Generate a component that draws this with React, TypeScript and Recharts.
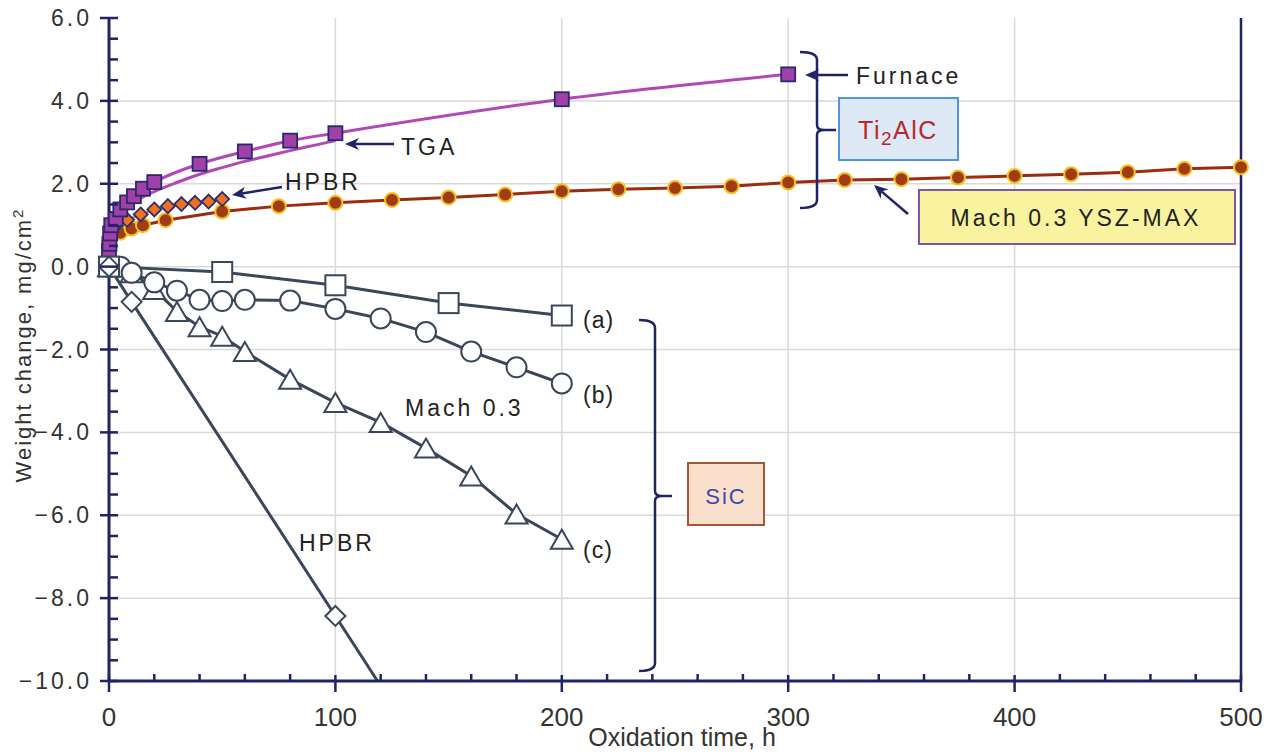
import React from 'react'
import { LineChart, Line, XAxis, YAxis, CartesianGrid, ReferenceLine } from 'recharts'

type Pt = { x: number; y: number }

// Ti2AlC – furnace (squares) and TGA (trace)
const furnaceX = [0, 0.2, 0.5, 1, 3, 5, 8, 11, 15, 20, 40, 60, 80, 100, 200, 300]
const furnaceY = [0.35, 0.55, 0.8, 1.0, 1.15, 1.38, 1.55, 1.7, 1.88, 2.04, 2.48, 2.78, 3.04, 3.22, 4.04, 4.64]
const tgaX = [0, 1, 3, 5, 10, 15, 20, 30, 40, 50, 60, 70, 80, 90, 100]
const tgaY = [0.3, 0.88, 1.12, 1.27, 1.52, 1.68, 1.81, 2.03, 2.23, 2.39, 2.54, 2.67, 2.8, 2.92, 3.04]
// Ti2AlC – HPBR (diamonds)
const hpbrTiX = [0, 2, 8, 14, 20, 26, 32, 38, 44, 50]
const hpbrTiY = [0.55, 0.95, 1.13, 1.26, 1.38, 1.46, 1.51, 1.54, 1.57, 1.63]
// Mach 0.3 YSZ-MAX
const machMaxX = [0, 5, 10, 15, 25, 50, 75, 100, 125, 150, 175, 200, 225, 250, 275, 300, 325, 350, 375, 400, 425, 450, 475, 500]
const machMaxY = [0.6, 0.82, 0.92, 1.0, 1.12, 1.33, 1.46, 1.54, 1.61, 1.67, 1.74, 1.82, 1.87, 1.9, 1.94, 2.03, 2.09, 2.11, 2.15, 2.19, 2.23, 2.28, 2.36, 2.4]
// SiC
const sicAX = [0, 50, 100, 150, 200]
const sicAY = [0, -0.13, -0.45, -0.88, -1.18]
const sicBX = [0, 5, 10, 20, 30, 40, 50, 60, 80, 100, 120, 140, 160, 180, 200]
const sicBY = [0, 0, -0.15, -0.38, -0.58, -0.8, -0.83, -0.8, -0.82, -1.02, -1.25, -1.58, -2.05, -2.43, -2.82]
const sicCX = [0, 10, 20, 30, 40, 50, 60, 80, 100, 120, 140, 160, 180, 200]
const sicCY = [0, -0.15, -0.55, -1.08, -1.45, -1.68, -2.05, -2.72, -3.28, -3.76, -4.38, -5.05, -5.97, -6.58]
// HPBR SiC – last entry is where the line leaves the plot at the bottom
const hpbrSiX = [0, 10, 100, 118.6]
const hpbrSiY = [0, -0.85, -8.43, -10]

const X_LABELS = [0, 100, 200, 300, 400, 500]
const Y_LABELS = [-10, -8, -6, -4, -2, 0, 2, 4, 6]
const X_TICKS = Array.from({ length: 26 }, (_, i) => i * 20)
const Y_TICKS = Array.from({ length: 33 }, (_, i) => -10 + i * 0.5)

const zip = (xs: number[], ys: number[]): Pt[] => xs.map((x, i) => ({ x, y: ys[i] }))

const NAVY = '#1f2466'
const SLATE = '#3a4659'
const FONT = 'Liberation Sans, Arial, sans-serif'
const NARROW = 'Liberation Sans Narrow, Arial Narrow, sans-serif'

const square = (size: number, fill: string, stroke: string, sw: number) => (p: any) => {
  const { cx, cy, index } = p
  if (cx == null || cy == null) return <g key={`s${index}`} />
  return <rect key={`s${index}`} x={cx - size / 2} y={cy - size / 2} width={size} height={size} fill={fill} stroke={stroke} strokeWidth={sw} />
}
const circle = (r: number, fill: string, stroke: string, sw: number) => (p: any) => {
  const { cx, cy, index } = p
  if (cx == null || cy == null) return <g key={`c${index}`} />
  return <circle key={`c${index}`} cx={cx} cy={cy} r={r} fill={fill} stroke={stroke} strokeWidth={sw} />
}
const diamond = (s: number, fill: string, stroke: string, sw: number, skipLast = 0) => (p: any) => {
  const { cx, cy, index, points } = p
  if (cx == null || cy == null) return <g key={`d${index}`} />
  if (skipLast && points && index >= points.length - skipLast) return <g key={`d${index}`} />
  const h = s / 2
  return <polygon key={`d${index}`} points={`${cx},${cy - h} ${cx + h},${cy} ${cx},${cy + h} ${cx - h},${cy}`} fill={fill} stroke={stroke} strokeWidth={sw} />
}
const triangle = (w: number, h: number, fill: string, stroke: string, sw: number) => (p: any) => {
  const { cx, cy, index } = p
  if (cx == null || cy == null) return <g key={`t${index}`} />
  return <polygon key={`t${index}`} points={`${cx},${cy - h / 2} ${cx + w / 2},${cy + h / 2} ${cx - w / 2},${cy + h / 2}`} fill={fill} stroke={stroke} strokeWidth={sw} />
}

function XTick(props: any) {
  const { x, y, payload } = props
  const v = payload.value
  const major = X_LABELS.includes(v)
  return (
    <g>
      <line x1={x} x2={x} y1={major ? y - 6 : y - 7} y2={major ? y + 11 : y} stroke={NAVY} strokeWidth={2.5} />
      {major && (
        <text x={x} y={y + 45} textAnchor="middle" fontFamily={NARROW} fontSize={26} fill="#333">
          {v}
        </text>
      )}
    </g>
  )
}

function YTick(props: any) {
  const { x, y, payload } = props
  const v = payload.value
  const major = Y_LABELS.includes(v)
  const label = v.toFixed(1).replace('-', '\u2212')
  return (
    <g>
      <line x1={major ? x - 9 : x} x2={x + 9} y1={y} y2={y} stroke={NAVY} strokeWidth={2.5} />
      {major && (
        <text x={x - 17} y={y + 8} textAnchor="end" fontFamily={FONT} fontSize={23} letterSpacing={3} fill="#333">
          {label}
        </text>
      )}
    </g>
  )
}

function Arrow({ x1, y1, x2, y2 }: { x1: number; y1: number; x2: number; y2: number }) {
  const a = Math.atan2(y2 - y1, x2 - x1)
  const L = 14
  const Wd = 6
  const c = Math.cos(a)
  const s = Math.sin(a)
  const bx = x2 - L * c
  const by = y2 - L * s
  const nx = x2 - L * 0.7 * c
  const ny = y2 - L * 0.7 * s
  return (
    <g>
      <line x1={x1} y1={y1} x2={nx} y2={ny} stroke={NAVY} strokeWidth={2.5} />
      <polygon points={`${x2},${y2} ${bx + Wd * s},${by - Wd * c} ${nx},${ny} ${bx - Wd * s},${by + Wd * c}`} fill={NAVY} />
    </g>
  )
}

function Brace({ x0, xv, xt, yTop, yMid, yBot }: { x0: number; xv: number; xt: number; yTop: number; yMid: number; yBot: number }) {
  const r = 8
  const d = `M${x0},${yTop} Q${xv},${yTop} ${xv},${yTop + r} L${xv},${yMid - 5} Q${xv},${yMid} ${xv + 7},${yMid} L${xt},${yMid} M${xv + 7},${yMid} Q${xv},${yMid} ${xv},${yMid + 5} L${xv},${yBot - r} Q${xv},${yBot} ${x0},${yBot}`
  return <path d={d} fill="none" stroke={NAVY} strokeWidth={2.5} />
}

const txt = { fontFamily: FONT, fontSize: 23, letterSpacing: 3, fill: '#222' } as const

function Annotations() {
  return (
    <svg width={1270} height={753} style={{ position: 'absolute', left: 0, top: 0, pointerEvents: 'none' }}>
      {/* Ti2AlC group */}
      <Arrow x1={848} y1={75} x2={805} y2={75} />
      <text x={856} y={84} {...txt}>Furnace</text>
      <Brace x0={800} xv={817} xt={836} yTop={52} yMid={130} yBot={208} />
      <rect x={839} y={98} width={119} height={62} fill="#dde9f6" stroke="#5095d5" strokeWidth={2} />
      <text x={898} y={139} textAnchor="middle" fontFamily={FONT} fontSize={25} letterSpacing={1.5} fill="#b8282a">
        Ti<tspan fontSize={19} dy={6}>2</tspan><tspan dy={-6}>AlC</tspan>
      </text>
      <Arrow x1={394} y1={144} x2={345} y2={144} />
      <text x={401} y={155} {...txt}>TGA</text>
      <Arrow x1={282} y1={187} x2={232} y2={195} />
      <text x={285} y={190} {...txt}>HPBR</text>
      <Arrow x1={908} y1={214} x2={874} y2={185} />
      <rect x={919} y={190} width={316} height={54} fill="#f9f3a0" stroke="#7a55a8" strokeWidth={2} />
      <text x={1076} y={226} textAnchor="middle" {...txt}>Mach 0.3 YSZ-MAX</text>
      {/* SiC group */}
      <text x={583} y={328} {...txt} letterSpacing={1}>(a)</text>
      <text x={583} y={403} {...txt} letterSpacing={1}>(b)</text>
      <text x={583} y={558} {...txt} letterSpacing={1}>(c)</text>
      <text x={405} y={416} {...txt}>Mach 0.3</text>
      <text x={299} y={551} {...txt}>HPBR</text>
      <Brace x0={639} xv={655} xt={672} yTop={320} yMid={496} yBot={671} />
      <rect x={688} y={463} width={76} height={62} fill="#fadfcc" stroke="#a5573a" strokeWidth={2} />
      <text x={726} y={504} textAnchor="middle" fontFamily={FONT} fontSize={22} letterSpacing={2} fill="#3a4aa8">SiC</text>
      {/* axis titles */}
      <text x={682} y={746} textAnchor="middle" fontFamily={NARROW} fontSize={25} fill="#333">
        Oxidation time, h
      </text>
      <text transform="translate(31,345) rotate(-90)" textAnchor="middle" fontFamily={FONT} fontSize={22} letterSpacing={2} fill="#333">
        Weight change, mg/cm<tspan fontSize={15} dy={-8}>2</tspan>
      </text>
    </svg>
  )
}

export default function App() {
  return (
    <div style={{ position: 'absolute', left: 0, top: 0, width: 1270, height: 753, background: '#fff' }}>
      <LineChart width={1270} height={753} margin={{ top: 18, right: 29, bottom: 20, left: 0 }}>
        <CartesianGrid stroke="#d9d9d9" strokeWidth={1.5} horizontalValues={[-8, -6, -4, -2, 0, 2, 4]} verticalValues={[100, 200, 300, 400]} />
        <XAxis
          type="number"
          dataKey="x"
          domain={[0, 500]}
          ticks={X_TICKS}
          interval={0}
          height={52}
          tickSize={0}
          tickMargin={0}
          tickLine={false}
          tick={<XTick />}
          axisLine={{ stroke: NAVY, strokeWidth: 3 }}
        />
        <YAxis
          type="number"
          dataKey="y"
          domain={[-10, 6]}
          ticks={Y_TICKS}
          interval={0}
          width={109}
          tickSize={0}
          tickMargin={0}
          tickLine={false}
          tick={<YTick />}
          axisLine={{ stroke: NAVY, strokeWidth: 3 }}
        />
        <ReferenceLine x={500} stroke={NAVY} strokeWidth={2.5} />
        <Line data={zip(machMaxX, machMaxY)} dataKey="y" stroke="#9c2c10" strokeWidth={3} dot={circle(7, '#a03c14', '#f5c020', 2)} isAnimationActive={false} />
        <Line data={zip(hpbrTiX, hpbrTiY)} dataKey="y" stroke="#f07020" strokeWidth={2} dot={diamond(14, '#f07020', '#2a3070', 1.8)} isAnimationActive={false} />
        <Line data={zip(tgaX, tgaY)} type="monotone" dataKey="y" stroke="#b048b8" strokeWidth={3} dot={false} isAnimationActive={false} />
        <Line data={zip(furnaceX, furnaceY)} type="monotone" dataKey="y" stroke="#b048b8" strokeWidth={3} dot={square(14, '#a040a8', '#2a2a6a', 1.8)} isAnimationActive={false} />
        <Line data={zip(sicCX, sicCY)} dataKey="y" stroke={SLATE} strokeWidth={3} dot={triangle(22, 19, '#fff', SLATE, 2)} isAnimationActive={false} />
        <Line data={zip(sicBX, sicBY)} dataKey="y" stroke={SLATE} strokeWidth={3} dot={circle(10, '#fff', SLATE, 2)} isAnimationActive={false} />
        <Line data={zip(sicAX, sicAY)} dataKey="y" stroke={SLATE} strokeWidth={3} dot={square(20, '#fff', SLATE, 2)} isAnimationActive={false} />
        <Line data={zip(hpbrSiX, hpbrSiY)} dataKey="y" stroke={SLATE} strokeWidth={3} dot={diamond(20, '#fff', SLATE, 2, 1)} isAnimationActive={false} />
      </LineChart>
      <Annotations />
    </div>
  )
}
